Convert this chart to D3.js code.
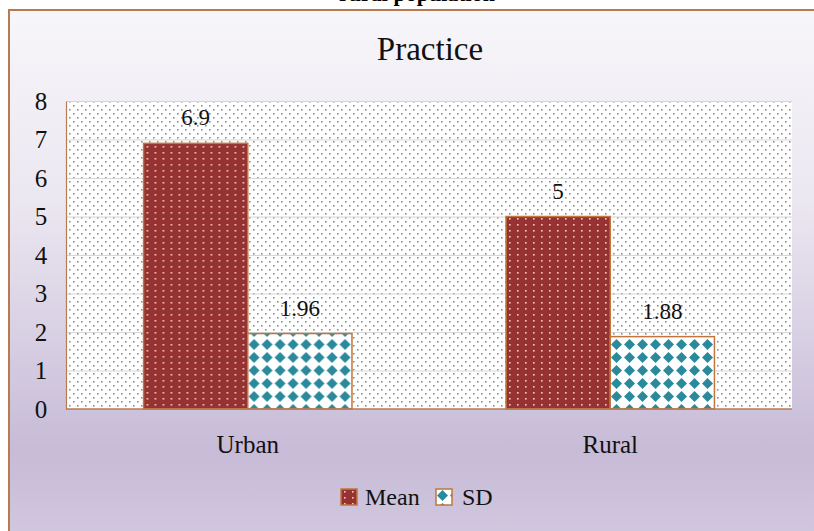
<!DOCTYPE html>
<html>
<head>
<meta charset="utf-8">
<script src="https://cdn.jsdelivr.net/npm/d3@7"></script>
<style>
  html, body { margin: 0; padding: 0; background: #fff; }
</style>
</head>
<body>
<div class="js-container"></div>
<script>
;(function() {
  'use strict';

  // chart data
  var categories = ['Urban', 'Rural'];
  var seriesNames = ['Mean', 'SD'];
  var meanValues = [6.9, 5];
  var sdValues = [1.96, 1.88];
  var valueLabels = [['6.9', '1.96'], ['5', '1.88']];
  var yTicks = [0, 1, 2, 3, 4, 5, 6, 7, 8];

  var W = 814, H = 531;
  var plot = {left: 66, right: 792, top: 101, bottom: 409};
  var FONT = '"Times New Roman", Times, "Liberation Serif", "DejaVu Serif", serif';

  var svg = d3.select('.js-container').append('svg')
      .attr('width', W)
      .attr('height', H)
      .style('font-family', FONT);

  var defs = svg.append('defs');

  // background gradient of the chart frame
  var grad = defs.append('linearGradient')
      .attr('id', 'bg')
      .attr('x1', 0).attr('y1', 0).attr('x2', 0).attr('y2', 1);
  grad.append('stop').attr('offset', '0%').attr('stop-color', '#f7f6f9');
  grad.append('stop').attr('offset', '35%').attr('stop-color', '#ebe7f1');
  grad.append('stop').attr('offset', '80%').attr('stop-color', '#c7bbd7');
  grad.append('stop').attr('offset', '100%').attr('stop-color', '#d4cbe0');

  // dotted plot area pattern
  var pDots = defs.append('pattern')
      .attr('id', 'plotDots')
      .attr('patternUnits', 'userSpaceOnUse')
      .attr('width', 8).attr('height', 8);
  pDots.append('rect').attr('width', 8).attr('height', 8).attr('fill', '#ffffff');
  pDots.append('rect').attr('x', 1).attr('y', 1).attr('width', 1.6).attr('height', 1.6).attr('fill', '#8f8f8f');
  pDots.append('rect').attr('x', 5).attr('y', 5).attr('width', 1.6).attr('height', 1.6).attr('fill', '#8f8f8f');

  // dotted red for Mean
  var pMean = defs.append('pattern')
      .attr('id', 'meanFill')
      .attr('patternUnits', 'userSpaceOnUse')
      .attr('width', 8).attr('height', 6);
  pMean.append('rect').attr('width', 8).attr('height', 6).attr('fill', '#963232');
  pMean.append('rect').attr('x', 3).attr('y', 2).attr('width', 1.6).attr('height', 1.6).attr('fill', '#f2cfc6');

  // diamonds for SD
  var pSd = defs.append('pattern')
      .attr('id', 'sdFill')
      .attr('patternUnits', 'userSpaceOnUse')
      .attr('width', 13).attr('height', 13);
  pSd.append('rect').attr('width', 13).attr('height', 13).attr('fill', '#ffffff');
  pSd.append('path').attr('d', 'M6.5,1 L12,6.5 L6.5,12 L1,6.5 Z').attr('fill', '#2a8a9c');

  // outer frame
  svg.append('rect')
      .attr('x', 9).attr('y', 10)
      .attr('width', W + 20).attr('height', H + 20)
      .attr('fill', 'url(#bg)')
      .attr('stroke', '#b87a52')
      .attr('stroke-width', 2);

  // heading above the frame, cut off at the top edge as in the source
  svg.append('text')
      .attr('x', 417).attr('y', 1)
      .attr('text-anchor', 'middle')
      .attr('font-weight', 'bold')
      .attr('font-size', 22)
      .attr('fill', '#000')
      .text('rural population');

  // title
  svg.append('text')
      .attr('x', 430).attr('y', 60)
      .attr('text-anchor', 'middle')
      .attr('font-size', 33)
      .attr('fill', '#111')
      .text('Practice');

  var x0 = d3.scaleBand()
      .domain(categories)
      .range([plot.left, plot.right])
      .paddingInner(0.425)
      .paddingOuter(0.214);

  var x1 = d3.scaleBand()
      .domain(seriesNames)
      .range([0, x0.bandwidth()]);

  var y = d3.scaleLinear()
      .domain([0, 8])
      .range([plot.bottom, plot.top]);

  // plot area
  svg.append('rect')
      .attr('x', plot.left).attr('y', plot.top)
      .attr('width', plot.right - plot.left)
      .attr('height', plot.bottom - plot.top)
      .attr('fill', 'url(#plotDots)');

  // gridlines
  svg.append('g')
      .selectAll('line')
      .data(yTicks.filter(function(d) { return d > 0; }))
      .join('line')
      .attr('x1', plot.left).attr('x2', plot.right)
      .attr('y1', function(d) { return y(d) + 0.5; })
      .attr('y2', function(d) { return y(d) + 0.5; })
      .attr('stroke', '#d6d6d6')
      .attr('stroke-width', 1.2);

  // y axis
  var yAxis = svg.append('g')
      .attr('transform', 'translate(' + plot.left + ',0)')
      .call(d3.axisLeft(y).tickValues(yTicks).tickSize(0).tickPadding(19).tickFormat(d3.format('d')));
  yAxis.attr('font-family', null);
  yAxis.select('.domain').attr('stroke', '#b87a52').attr('stroke-width', 1.2);
  yAxis.selectAll('text')
      .attr('font-size', 25)
      .attr('fill', '#111')
      .attr('text-anchor', 'middle')
      .attr('x', 41 - plot.left);

  // bars
  var rows = categories.map(function(c, i) {
    return [
      {cat: c, series: 'Mean', value: meanValues[i], label: valueLabels[i][0]},
      {cat: c, series: 'SD', value: sdValues[i], label: valueLabels[i][1]}
    ];
  });

  var groups = svg.append('g')
      .selectAll('g')
      .data(rows)
      .join('g')
      .attr('transform', function(d) { return 'translate(' + x0(d[0].cat) + ',0)'; });

  groups.selectAll('rect')
      .data(function(d) { return d; })
      .join('rect')
      .attr('x', function(d) { return x1(d.series); })
      .attr('y', function(d) { return y(d.value); })
      .attr('width', x1.bandwidth())
      .attr('height', function(d) { return y(0) - y(d.value); })
      .attr('fill', function(d) { return d.series == 'Mean' ? 'url(#meanFill)' : 'url(#sdFill)'; })
      .attr('stroke', '#c0763e')
      .attr('stroke-width', 1.5);

  groups.selectAll('text')
      .data(function(d) { return d; })
      .join('text')
      .attr('x', function(d) { return x1(d.series) + x1.bandwidth() / 2; })
      .attr('y', function(d) { return y(d.value) - 18; })
      .attr('text-anchor', 'middle')
      .attr('font-size', 23)
      .attr('fill', '#111')
      .text(function(d) { return d.label; });

  // x axis line
  svg.append('line')
      .attr('x1', plot.left).attr('x2', plot.right)
      .attr('y1', plot.bottom).attr('y2', plot.bottom)
      .attr('stroke', '#b87a52')
      .attr('stroke-width', 1.5);

  // category labels
  svg.append('g')
      .selectAll('text')
      .data(categories)
      .join('text')
      .attr('x', function(d) { return x0(d) + x0.bandwidth() / 2; })
      .attr('y', 453)
      .attr('text-anchor', 'middle')
      .attr('font-size', 25)
      .attr('fill', '#111')
      .text(function(d) { return d; });

  // legend
  var legendX = [341, 436];
  var legend = svg.append('g')
      .selectAll('g')
      .data(seriesNames)
      .join('g')
      .attr('transform', function(d, i) { return 'translate(' + legendX[i] + ',489)'; });

  legend.append('rect')
      .attr('width', 16).attr('height', 16)
      .attr('fill', function(d) { return d == 'Mean' ? 'url(#meanFill)' : 'url(#sdFill)'; })
      .attr('stroke', '#c0763e')
      .attr('stroke-width', 1.5);

  legend.append('text')
      .attr('x', function(d) { return d == 'Mean' ? 24 : 26; })
      .attr('y', 16)
      .attr('font-size', 24)
      .attr('fill', '#111')
      .text(function(d) { return d; });

}());
</script>
</body>
</html>
